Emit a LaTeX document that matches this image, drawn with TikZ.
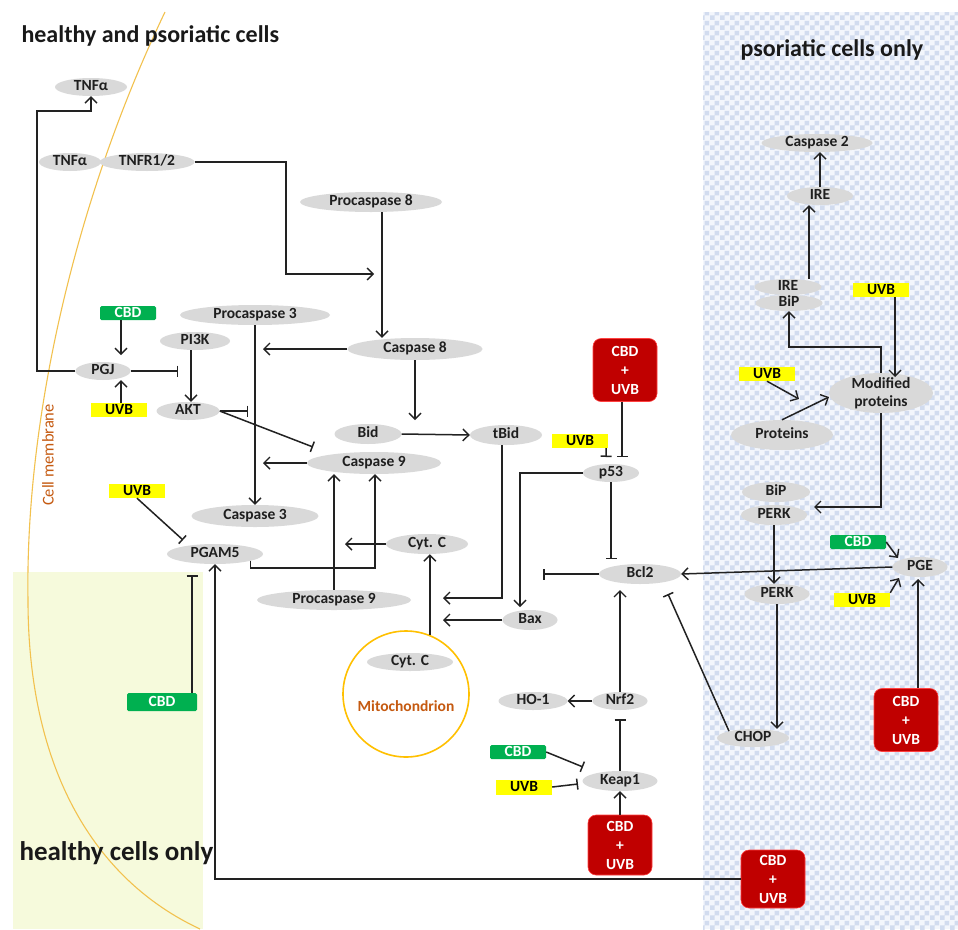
\documentclass[tikz,border=0pt]{standalone}
\usepackage{fontspec}
\setmainfont{Carlito}
\usetikzlibrary{arrows.meta,shapes.geometric,patterns.meta}
\definecolor{ellgray}{HTML}{D9D9D9}
\definecolor{cbdgreen}{HTML}{00B050}
\definecolor{uvbyellow}{HTML}{FFFF00}
\definecolor{combored}{HTML}{C00000}
\definecolor{mitogold}{HTML}{FFC000}
\definecolor{memorange}{HTML}{C55A11}
\definecolor{membrane}{HTML}{F2C14E}
\definecolor{healthyfill}{HTML}{F6FADC}
\definecolor{psorbg}{HTML}{F3F6FC}
\definecolor{psorfg}{HTML}{D2DCEF}
\definecolor{linecol}{HTML}{222222}
\tikzdeclarepattern{
  name=mycheck,
  type=uncolored,
  bounding box={(0pt,0pt) and (10pt,10pt)},
  tile size={(10pt,10pt)},
  code={
    \pgfpathrectangle{\pgfpointorigin}{\pgfqpoint{5pt}{5pt}}
    \pgfpathrectangle{\pgfqpoint{5pt}{5pt}}{\pgfqpoint{5pt}{5pt}}
    \pgfusepath{fill}
  }
}
\tikzset{
  gn/.style={ellipse,fill=ellgray,inner sep=0pt,minimum height=18pt,text height=9pt,text depth=2pt,text=black!88,font=\bfseries\fontsize{15.5}{17}\selectfont},
  cbd/.style={rectangle,fill=cbdgreen,text=white,inner sep=0pt,minimum width=56pt,minimum height=14pt,text height=9pt,text depth=1pt,rounded corners=1.5pt,font=\bfseries\fontsize{15.5}{17}\selectfont},
  uvb/.style={rectangle,fill=uvbyellow,text=black,inner sep=0pt,minimum width=56pt,minimum height=14pt,text height=9pt,text depth=1pt,font=\bfseries\fontsize{15.5}{17}\selectfont},
  combo/.style={rectangle,fill=combored,draw=red!75!white,line width=0.6pt,text=white,rounded corners=8pt,minimum width=64pt,minimum height=60pt,inner sep=0pt,align=center,font=\bfseries\fontsize{15.5}{19}\selectfont},
  act/.style={draw=linecol,line width=1.5pt,-{Straight Barb[length=6pt,width=12pt,line width=1.4pt]}},
  inh/.style={draw=linecol,line width=1.5pt,-{Bar[width=11pt,line width=1.5pt]}},
  title/.style={anchor=west,text=black!90,font=\bfseries\fontsize{24}{28}\selectfont}
}
\begin{document}
\begin{tikzpicture}[x=1pt,y=-1pt]
\useasboundingbox (0,0) rectangle (958,929);
\fill[white] (0,0) rectangle (958,929);
% regions
\fill[healthyfill] (13,572) rectangle (203,929);
\fill[psorbg] (703,12) rectangle (958,929);
\fill[pattern=mycheck,pattern color=psorfg] (703,12) rectangle (958,929);
% cell membrane
\draw[membrane,line width=1.1pt] (165,12) .. controls (75,200) and (25,420) .. (28,600) .. controls (28,770) and (95,880) .. (200,929);
\node[rotate=90,text=memorange,font=\fontsize{16.5}{18}\selectfont] (cmlabel) at (48,455) {Cell membrane};
% titles
\node[title] (t1) at (18,36) {healthy and psoriatic cells};
\node[title] (t2) at (737,50) {psoriatic cells only};
\node[title,font=\bfseries\fontsize{27}{30}\selectfont] (t3) at (16,853) {healthy cells only};
% nodes
\node[gn,minimum width=95pt] (tnfr) at (147,162) {TNFR1/2};
\node[gn,minimum width=62pt] (tnf) at (70,162) {TNFα};
\node[gn,minimum width=72pt] (tnfTop) at (91,87) {TNFα};
\node[gn,minimum width=142pt,minimum height=20pt] (pc8) at (371,202) {Procaspase 8};
\node[gn,minimum width=150pt,minimum height=20pt] (pc3) at (255,315) {Procaspase 3};
\node[gn,minimum width=135pt,minimum height=22pt] (c8) at (415,349) {Caspase 8};
\node[gn,minimum width=70pt] (pi3k) at (195,341) {PI3K};
\node[cbd] (cbdPGJ) at (128,313) {CBD};
\node[gn,minimum width=55pt] (pgj) at (103,371) {PGJ};
\node[uvb] (uvbPGJ) at (119,410) {UVB};
\node[gn,minimum width=63pt] (akt) at (188,411) {AKT};
\node[gn,minimum width=67pt,minimum height=20pt] (bid) at (368,434) {Bid};
\node[gn,minimum width=72pt,minimum height=20pt] (tbid) at (506,435) {tBid};
\node[gn,minimum width=134pt,minimum height=22pt] (c9) at (374,463) {Caspase 9};
\node[gn,minimum width=127pt,minimum height=22pt] (c3) at (255,516) {Caspase 3};
\node[uvb] (uvbPG) at (137,491) {UVB};
\node[gn,minimum width=96pt,minimum height=20pt] (pgam5) at (215,554) {PGAM5};
\node[gn,minimum width=82pt,minimum height=20pt] (cytc) at (427,544) {Cyt. C};
\node[gn,minimum width=154pt,minimum height=20pt] (pc9) at (334,600) {Procaspase 9};
\node[gn,minimum width=55pt,minimum height=20pt] (bax) at (530,620) {Bax};
\node[circle,draw=mitogold,line width=1.6pt,minimum size=126pt,inner sep=0pt] (mito) at (406,694) {};
\node[gn,minimum width=86pt] (cytcM) at (410,662) {Cyt. C};
\node[text=memorange,font=\bfseries\fontsize{15.5}{17}\selectfont] (mitoLabel) at (406,706) {Mitochondrion};
\node[gn,minimum width=69pt] (ho1) at (533,701) {HO-1};
\node[gn,minimum width=55pt] (nrf2) at (620,701) {Nrf2};
\node[cbd] (cbdK) at (518,752) {CBD};
\node[uvb,minimum height=15pt] (uvbK) at (524,787) {UVB};
\node[gn,minimum width=75pt,minimum height=20pt] (keap1) at (620,781) {Keap1};
\node[combo] (redK) at (620,845) {CBD\\+\\UVB};
\node[gn,minimum width=56pt] (p53) at (611,473) {p53};
\node[uvb] (uvbP) at (580,441) {UVB};
\node[combo,minimum height=63pt] (redP) at (625,370) {CBD\\+\\UVB};
\node[gn,minimum width=82pt,minimum height=20pt] (bcl2) at (640,574) {Bcl2};
\node[gn,minimum width=72pt] (chop) at (753,738) {CHOP};
\node[combo,minimum height=63pt] (redPGE) at (906,720) {CBD\\+\\UVB};
\node[combo,minimum height=58pt] (redB) at (773,879) {CBD\\+\\UVB};
\node[gn,minimum width=111pt] (casp2) at (817,143) {Caspase 2};
\node[gn,minimum width=66pt] (ireU) at (820,196) {IRE};
\node[gn,minimum width=67pt,minimum height=16pt] (ireL) at (788,287) {IRE};
\node[gn,minimum width=67pt,minimum height=16pt] (bipU) at (789,303) {BiP};
\node[uvb] (uvbR) at (881,290) {UVB};
\node[uvb] (uvbPr) at (767,374) {UVB};
\node[ellipse,fill=ellgray,inner xsep=0pt,inner ysep=-5pt,minimum width=104pt,minimum height=40pt,align=center,text=black!88,font=\bfseries\fontsize{15.5}{18}\selectfont] (modp) at (881,393) {Modified\\proteins};
\node[gn,minimum width=102pt,minimum height=30pt] (prot) at (782,435) {Proteins};
\node[gn,minimum width=68pt,minimum height=20pt] (bipL) at (776,492) {BiP};
\node[gn,minimum width=66pt,minimum height=20pt] (perkL) at (774,515) {PERK};
\node[cbd] (cbdPGE) at (858,542) {CBD};
\node[gn,minimum width=55pt,minimum height=20pt] (pge) at (920,567) {PGE};
\node[gn,minimum width=65pt,minimum height=20pt] (perk) at (777,594) {PERK};
\node[uvb] (uvbPGE) at (862,600) {UVB};
\node[cbd,minimum width=70pt,minimum height=18pt] (cbdPG) at (162,702) {CBD};
% coordinates
\coordinate (b1) at (37,111);
\coordinate (b2) at (286,274);
\coordinate (e2) at (374,274);
\coordinate (v3) at (382,0);
\coordinate (e4) at (263,349);
\coordinate (e5) at (415,420);
\coordinate (e8) at (263,463);
\coordinate (v9) at (191,0);
\coordinate (i10) at (178,371);
\coordinate (i11a) at (248,411);
\coordinate (i11b) at (313,447);
\coordinate (v12) at (121,0);
\coordinate (e12) at (121,355);
\coordinate (i14) at (183,540);
\coordinate (b15) at (375,568);
\coordinate (e17) at (345,544);
\coordinate (e19) at (443,598);
\coordinate (e20) at (443,620);
\coordinate (e21) at (520,607);
\coordinate (i22) at (611,559);
\coordinate (i23) at (543,574);
\coordinate (i24) at (606,457);
\coordinate (i25) at (622,457);
\coordinate (e26) at (620,590);
\coordinate (i28) at (620,719);
\coordinate (i29) at (583,767);
\coordinate (i30) at (578,784);
\coordinate (i32) at (668,594);
\coordinate (e34) at (814,507);
\coordinate (b35) at (789,347);
\coordinate (e36) at (895,377);
\coordinate (e37) at (799,399);
\coordinate (e38) at (829,397);
\coordinate (v39) at (809,0);
\coordinate (e43) at (898,558);
\coordinate (e44) at (899,578);
\coordinate (e45) at (918,579);
\coordinate (i47) at (192,575);
% edges
\draw[act] (pgj.west) -| (b1) -| (tnfTop.south);
\draw[act] (tnfr.east) -| (b2) -- (e2);
\draw[act] (pc8.south -| v3) -- (c8.north -| v3);
\draw[act] (c8.west) -- (e4);
\draw[act] (c8.south) -- (e5);
\draw[act] (bid.east) -- (tbid.west);
\draw[act] (pc3.south) -- (c3.north);
\draw[act] (c9.west) -- (e8);
\draw[act] (pi3k.south -| v9) -- (akt.north -| v9);
\draw[inh] (pgj.east) -- (i10);
\draw[inh] (akt.east) -- (i11a);
\draw[inh] (akt.east) -- (i11b);
\draw[act] (cbdPGJ.south -| e12) -- (e12);
\draw[act] (uvbPGJ.north -| v12) -- (pgj.south -| v12);
\draw[inh] (uvbPG.south) -- (i14);
\draw[act] (pgam5.-11) |- (b15) -- (c9.south -| b15);
\draw[act] (pc9.north) -- (c9.south -| pc9.north);
\draw[act] (cytc.west) -- (e17);
\draw[act] (mito.68) -- (cytc.south -| mito.68);
\draw[act] ([xshift=-4pt]tbid.south) |- (e19);
\draw[act] (bax.west) -- (e20);
\draw[act] (p53.west) -| (e21);
\draw[inh] (p53.south) -- (i22);
\draw[inh] (bcl2.west) -- (i23);
\draw[inh] ([xshift=-2pt]uvbP.south east) -- (i24);
\draw[inh] (redP.south -| i25) -- (i25);
\draw[act] (nrf2.north) -- (e26);
\draw[act] (nrf2.west) -- (ho1.east);
\draw[inh] (keap1.north) -- (i28);
\draw[inh] (cbdK.east) -- (i29);
\draw[inh] (uvbK.east) -- (i30);
\draw[act] (redK.north) -- (keap1.south);
\draw[inh] (chop.164) -- (i32);
\draw[act] (pge.west) -- (bcl2.east);
\draw[act] (modp.south) |- (e34);
\draw[act] (modp.north) |- (b35) -- (bipU.south);
\draw[act] (uvbR.south -| e36) -- (e36);
\draw[act] (uvbPr.south) -- (e37);
\draw[act] (prot.north) -- (e38);
\draw[act] (ireL.north -| v39) -- (ireU.south -| v39);
\draw[act] (ireU.north) -- (ireU.north |- casp2.south);
\draw[act] (perkL.south) -- (perkL.south |- perk.north);
\draw[act] (perk.south) -- (perk.south |- chop.north);
\draw[act] (cbdPGE.east) -- (e43);
\draw[act] (uvbPGE.north east) -- (e44);
\draw[act] (redPGE.north -| e45) -- (e45);
\draw[act] (redB.west) -| (pgam5.south);
\draw[inh] (cbdPG.north -| i47) -- (i47);
\end{tikzpicture}
\end{document}
